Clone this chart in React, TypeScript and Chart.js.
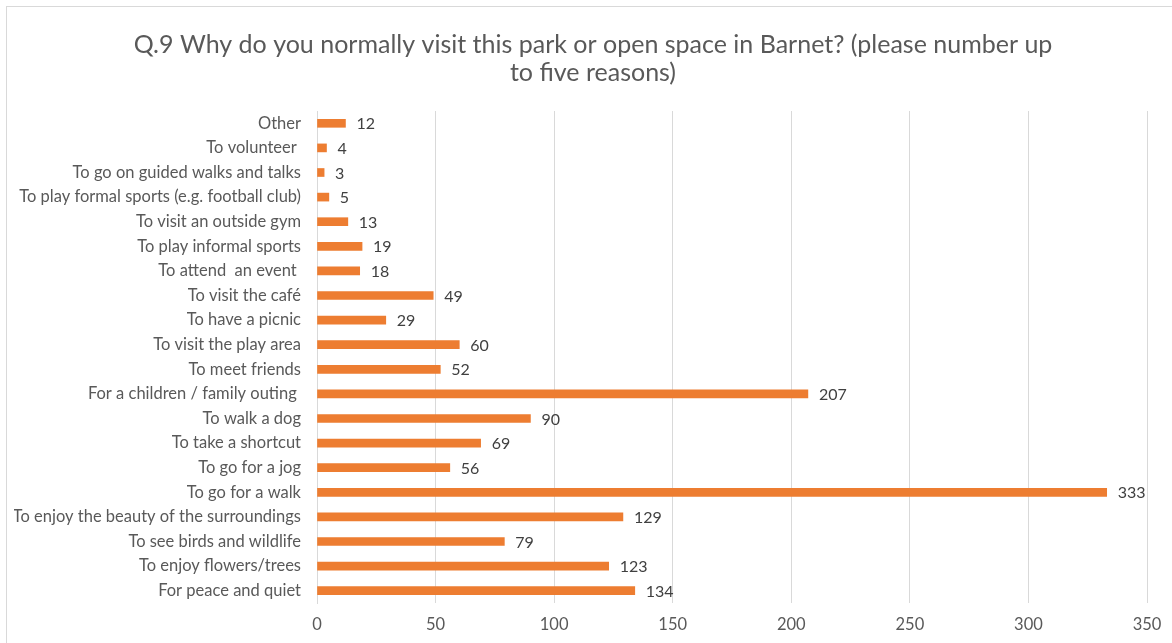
import React, { useEffect, useRef } from "react";
import { Chart, registerables } from "chart.js";

Chart.register(...registerables);

const categories = [
  "Other",
  "To volunteer ",
  "To go on guided walks and talks",
  "To play formal sports (e.g. football club)",
  "To visit an outside gym",
  "To play informal sports",
  "To attend  an event ",
  "To visit the café",
  "To have a picnic",
  "To visit the play area",
  "To meet friends",
  "For a children / family outing ",
  "To walk a dog",
  "To take a shortcut",
  "To go for a jog",
  "To go for a walk",
  "To enjoy the beauty of the surroundings",
  "To see birds and wildlife",
  "To enjoy flowers/trees",
  "For peace and quiet",
];

const values = [12, 4, 3, 5, 13, 19, 18, 49, 29, 60, 52, 207, 90, 69, 56, 333, 129, 79, 123, 134];

const titleLines = [
  "Q.9 Why do you normally visit this park or open space in Barnet? (please number up",
  "to five reasons)",
];

const FONT = "Lato, 'Open Sans', sans-serif";

const valueLabels = {
  id: "valueLabels",
  afterDatasetsDraw(chart: any) {
    const ctx = chart.ctx;
    const meta = chart.getDatasetMeta(0);
    ctx.save();
    ctx.font = `16px ${FONT}`;
    ctx.fillStyle = "#404040";
    ctx.textAlign = "left";
    ctx.textBaseline = "middle";
    meta.data.forEach((bar: any, i: number) => {
      ctx.fillText(String(values[i]), bar.x + 11, bar.y + 1);
    });
    ctx.restore();
  },
};

export default function App() {
  const ref = useRef<HTMLCanvasElement>(null);
  useEffect(() => {
    document.body.style.margin = "0";
    const chart = new Chart(ref.current!, {
      type: "bar",
      data: {
        labels: categories,
        datasets: [
          {
            data: values,
            backgroundColor: "#ED7D31",
            barThickness: 8,
          },
        ],
      },
      options: {
        indexAxis: "y",
        animation: false,
        responsive: false,
        layout: { padding: { left: 14, right: 0, top: 0, bottom: 0 } },
        plugins: {
          legend: { display: false },
          tooltip: { enabled: false },
          title: {
            display: true,
            text: titleLines,
            color: "#595959",
            font: { family: FONT, size: 25, weight: "normal", lineHeight: 1.12 },
            padding: { top: 31, bottom: 24 },
          },
        },
        scales: {
          x: {
            min: 0,
            max: 350,
            afterFit(scale: any) {
              scale.height = 40;
              scale.paddingRight = 25;
            },
            ticks: {
              stepSize: 50,
              color: "#595959",
              font: { family: FONT, size: 16.5 },
              padding: 12,
            },
            grid: { color: "#d9d9d9", drawTicks: false, lineWidth: 1 },
            border: { display: false },
          },
          y: {
            afterFit(scale: any) {
              scale.width = 303;
            },
            ticks: {
              color: "#595959",
              font: { family: FONT, size: 16.5 },
              padding: 16,
              autoSkip: false,
            },
            grid: { display: false, drawTicks: false },
            border: { display: true, color: "#d9d9d9", width: 1 },
          },
        },
      },
      plugins: [valueLabels],
    });
    return () => chart.destroy();
  }, []);

  return (
    <div style={{ position: "absolute", left: 0, top: 0, width: 1172, height: 643, overflow: "hidden", background: "#fff" }}>
      <div
        style={{
          position: "absolute",
          left: 6,
          top: 6,
          width: 1200,
          height: 700,
          border: "1px solid #d9d9d9",
          boxSizing: "border-box",
        }}
      />
      <canvas ref={ref} width={1172} height={643} style={{ position: "absolute", left: 0, top: 0 }} />
    </div>
  );
}
